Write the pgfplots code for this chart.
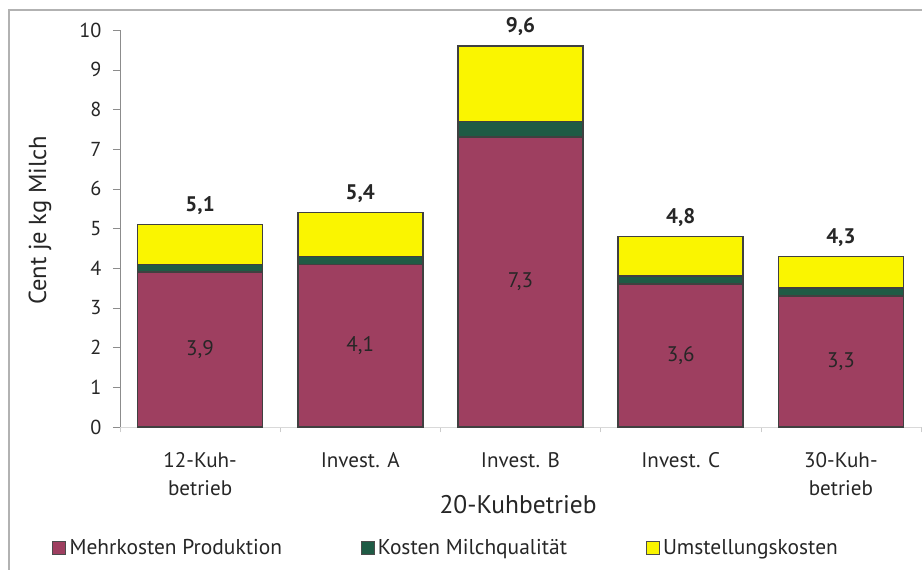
\documentclass[border=0pt]{standalone}
\usepackage{pgfplots}
\pgfplotsset{compat=1.18}
\usepackage{fontspec}
\setmainfont{PT Sans}
\definecolor{prod}{HTML}{9E3F60}
\definecolor{qual}{HTML}{1F5B45}
\definecolor{umst}{HTML}{FAF500}
\definecolor{txt}{HTML}{262626}

\begin{document}
\begin{tikzpicture}
\useasboundingbox (-2.4cm,-2.86cm) rectangle (16.04cm,8.54cm);
% picture frame
\draw[black!30, line width=0.6pt] (-2.22cm,-3cm) -- (-2.22cm,8.34cm) -- (16.2cm,8.34cm);
\begin{axis}[
  at={(0,0)}, anchor=south west,
  scale only axis, width=16.02cm, height=7.94cm,
  ybar stacked, bar width=2.5cm,
  xmin=-0.5, xmax=4.5, ymin=0, ymax=10,
  xtick={0,...,4},
  xticklabels={{12-Kuh-\\betrieb},{Invest. A},{Invest. B},{Invest. C},{30-Kuh-\\betrieb}},
  minor xtick={-0.5,0.5,...,4.5},
  ytick={0,...,10},
  axis x line*=bottom, axis y line*=left,
  x axis line style={black!15, -}, y axis line style={black!45, -},
  major x tick style={draw=none}, minor x tick style={black!20},
  minor tick length=3pt,
  major y tick style={black!45}, major tick length=4pt,
  tick align=outside,
  /pgf/number format/assume math mode=true,
  yticklabel style={font=\fontsize{11.5}{13}\selectfont, text=txt, xshift=-3pt},
  xticklabel style={font=\fontsize{12}{16}\selectfont, text=txt, align=center, yshift=-7pt},
  ylabel={Cent je kg Milch},
  ylabel style={at={(axis description cs:-0.1,0.52)}, anchor=center, font=\fontsize{14}{16}\selectfont, text=txt},
  xlabel={20-Kuhbetrieb},
  xlabel style={at={(axis description cs:0.497,-0.196)}, anchor=center, font=\fontsize{14.5}{16}\selectfont, text=txt},
  legend style={at={(-0.085,-0.305)}, anchor=west, draw=none, fill=none,
    legend columns=3, font=\fontsize{12.2}{14}\selectfont, text=txt, inner sep=0pt,
    /tikz/every even column/.append style={column sep=1.5cm}},
  legend image code/.code={\draw[#1, draw=black!70, line width=0.5pt] (0cm,-0.13cm) rectangle (0.26cm,0.13cm);},
  clip=false,
]
\addplot[fill=prod, draw=black!75, line width=0.8pt,
  nodes near coords={\pgfmathprintnumber[use comma,fixed,fixed zerofill,precision=1]{\pgfplotspointmeta}},
  every node near coord/.append style={anchor=center, font=\fontsize{12}{14}\selectfont, text=txt}]
  coordinates {(0,3.9) (1,4.1) (2,7.3) (3,3.6) (4,3.3)};
\addplot[fill=qual, draw=black!75, line width=0.8pt]
  coordinates {(0,0.2) (1,0.2) (2,0.4) (3,0.2) (4,0.2)};
\addplot[fill=umst, draw=black!75, line width=0.8pt,
  visualization depends on=rawy \as \rawy,
  point meta=explicit,
  nodes near coords={\pgfmathprintnumber[use comma,fixed,fixed zerofill,precision=1]{\pgfplotspointmeta}},
  every node near coord/.append style={anchor=south, shift={(axis direction cs:0,\rawy/2)}, yshift=2pt,
    font=\bfseries\fontsize{12}{14}\selectfont, text=black!85}]
  coordinates {(0,1.0) [5.1] (1,1.1) [5.4] (2,1.9) [9.6] (3,1.0) [4.8] (4,0.8) [4.3]};
\legend{Mehrkosten Produktion, Kosten Milchqualität, Umstellungskosten}
\end{axis}
\end{tikzpicture}
\end{document}
